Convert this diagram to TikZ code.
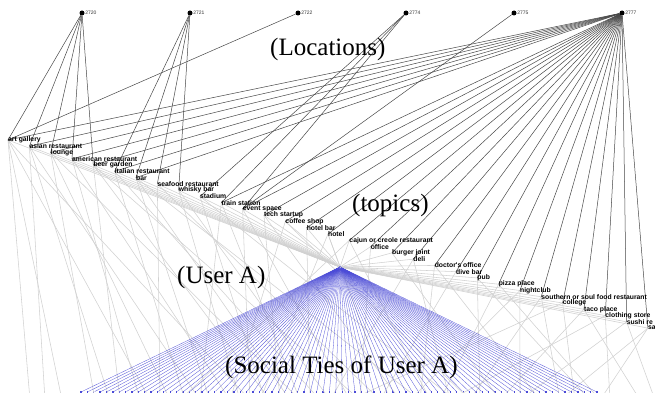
\documentclass[tikz,border=0pt]{standalone}
\usepackage{fontspec}
\setmainfont{Liberation Serif}
\newfontfamily\labfont{Liberation Sans}
\definecolor{tieblue}{RGB}{75,75,215}
\begin{document}
\begin{tikzpicture}[x=1pt,y=-1pt,
  loc/.style={circle,fill=black,inner sep=0pt,minimum size=5pt},
  loclabel/.style={font=\labfont\fontsize{5}{5}\selectfont,anchor=west,inner sep=0.4pt,text=black!80},
  toplabel/.style={font=\labfont\bfseries\fontsize{6.8}{7}\selectfont,anchor=west,inner sep=0pt},
  blk/.style={draw=black!72,line width=0.5pt},
  gry/.style={draw=black!18,line width=0.55pt},
  tie/.style={draw=tieblue,line width=0.28pt},
  tiedot/.style={rectangle,fill=tieblue,inner sep=0pt,minimum size=1.3pt},
  uadot/.style={circle,fill=tieblue,inner sep=0pt,minimum size=3pt},
  captext/.style={font=\fontsize{25}{27}\selectfont,anchor=base west,inner sep=0pt}]
\clip (0,0) rectangle (655,393);
\fill[white] (0,0) rectangle (655,393);
% topic anchor points
\foreach \i in {0,...,30} {
  \coordinate (t\i) at ({8+21.33*\i},{140+6.27*\i});
}
% user A and social ties
\node[uadot] (ua) at (340,267) {};
\foreach \k in {0,...,81} {
  \node[tiedot] (s\k) at ({81+\k*6.37},392) {};
}
% grey ties: topics to user A
\foreach \i in {0,...,30} {
  \draw[gry] (t\i) -- (ua);
}
% grey ties: topics to social ties (below)
\foreach \i/\x in {0/30,0/62,0/150,0/250,1/45,1/110,1/200,2/95,2/170,2/300,3/140,3/230,
  4/120,4/270,4/360,5/185,5/320,6/210,6/290,6/420,7/160,7/380,8/240,8/330,9/265,9/455,
  10/200,10/300,11/350,11/250,12/280,12/400,13/230,13/470,14/310,15/260,15/390,16/430,16/180,
  17/360,18/500,19/330,19/450,20/420,20/540,21/380,22/480,22/590,23/440,23/600,24/520,24/410,
  25/560,25/470,26/575,26/350,27/640,27/500,28/610,28/450,29/655,29/520,30/560,30/600} {
  \coordinate (gb\i-\x) at (\x,400);
  \draw[gry] (t\i) -- (gb\i-\x);
}
% blue fan
\foreach \k in {0,...,81} {
  \draw[tie] (ua) -- (s\k);
}
% locations
\node[loc] (L2720) at (82,13) {};
\node[loc] (L2721) at (190,13) {};
\node[loc] (L2722) at (298,13) {};
\node[loc] (L2774) at (406,13) {};
\node[loc] (L2775) at (514,13) {};
\node[loc] (L2777) at (622,13) {};
\foreach \n in {2720,2721,2722,2774,2775,2777} {
  \node[loclabel] (lab\n) at (L\n.east) {\n};
}
% black links location -> topic
\foreach \i in {0,...,4} { \draw[blk] (L2720) -- (t\i); }
\foreach \i in {5,...,8} { \draw[blk] (L2721) -- (t\i); }
\draw[blk] (L2722) -- (t0);
\foreach \i in {9,10,11} { \draw[blk] (L2774) -- (t\i); }
\draw[blk] (L2775) -- (t11);
\foreach \i in {0,...,6,10,11,...,30} { \draw[blk] (L2777) -- (t\i); }
% topic labels
\foreach \i/\t in {0/art gallery,1/asian restaurant,2/lounge,3/american restaurant,4/beer garden,
  5/italian restaurant,6/bar,7/seafood restaurant,8/whisky bar,9/stadium,10/train station,
  11/event space,12/tech startup,13/coffee shop,14/hotel bar,15/hotel,16/cajun or creole restaurant,
  17/office,18/burger joint,19/deli,20/doctor's office,21/dive bar,22/pub,23/pizza place,
  24/nightclub,25/southern or soul food restaurant,26/college,27/taco place,28/clothing store,
  29/sushi re,30/sa} {
  \node[toplabel] (tl\i) at (t\i) {\t};
}
% captions
\node[captext] (cLoc) at (270,56) {(Locations)};
\node[captext] (cTop) at (352,211) {(topics)};
\node[captext] (cUA) at (177,283) {(User A)};
\node[captext] (cST) at (225,373) {(Social Ties of User A)};
\end{tikzpicture}
\end{document}
